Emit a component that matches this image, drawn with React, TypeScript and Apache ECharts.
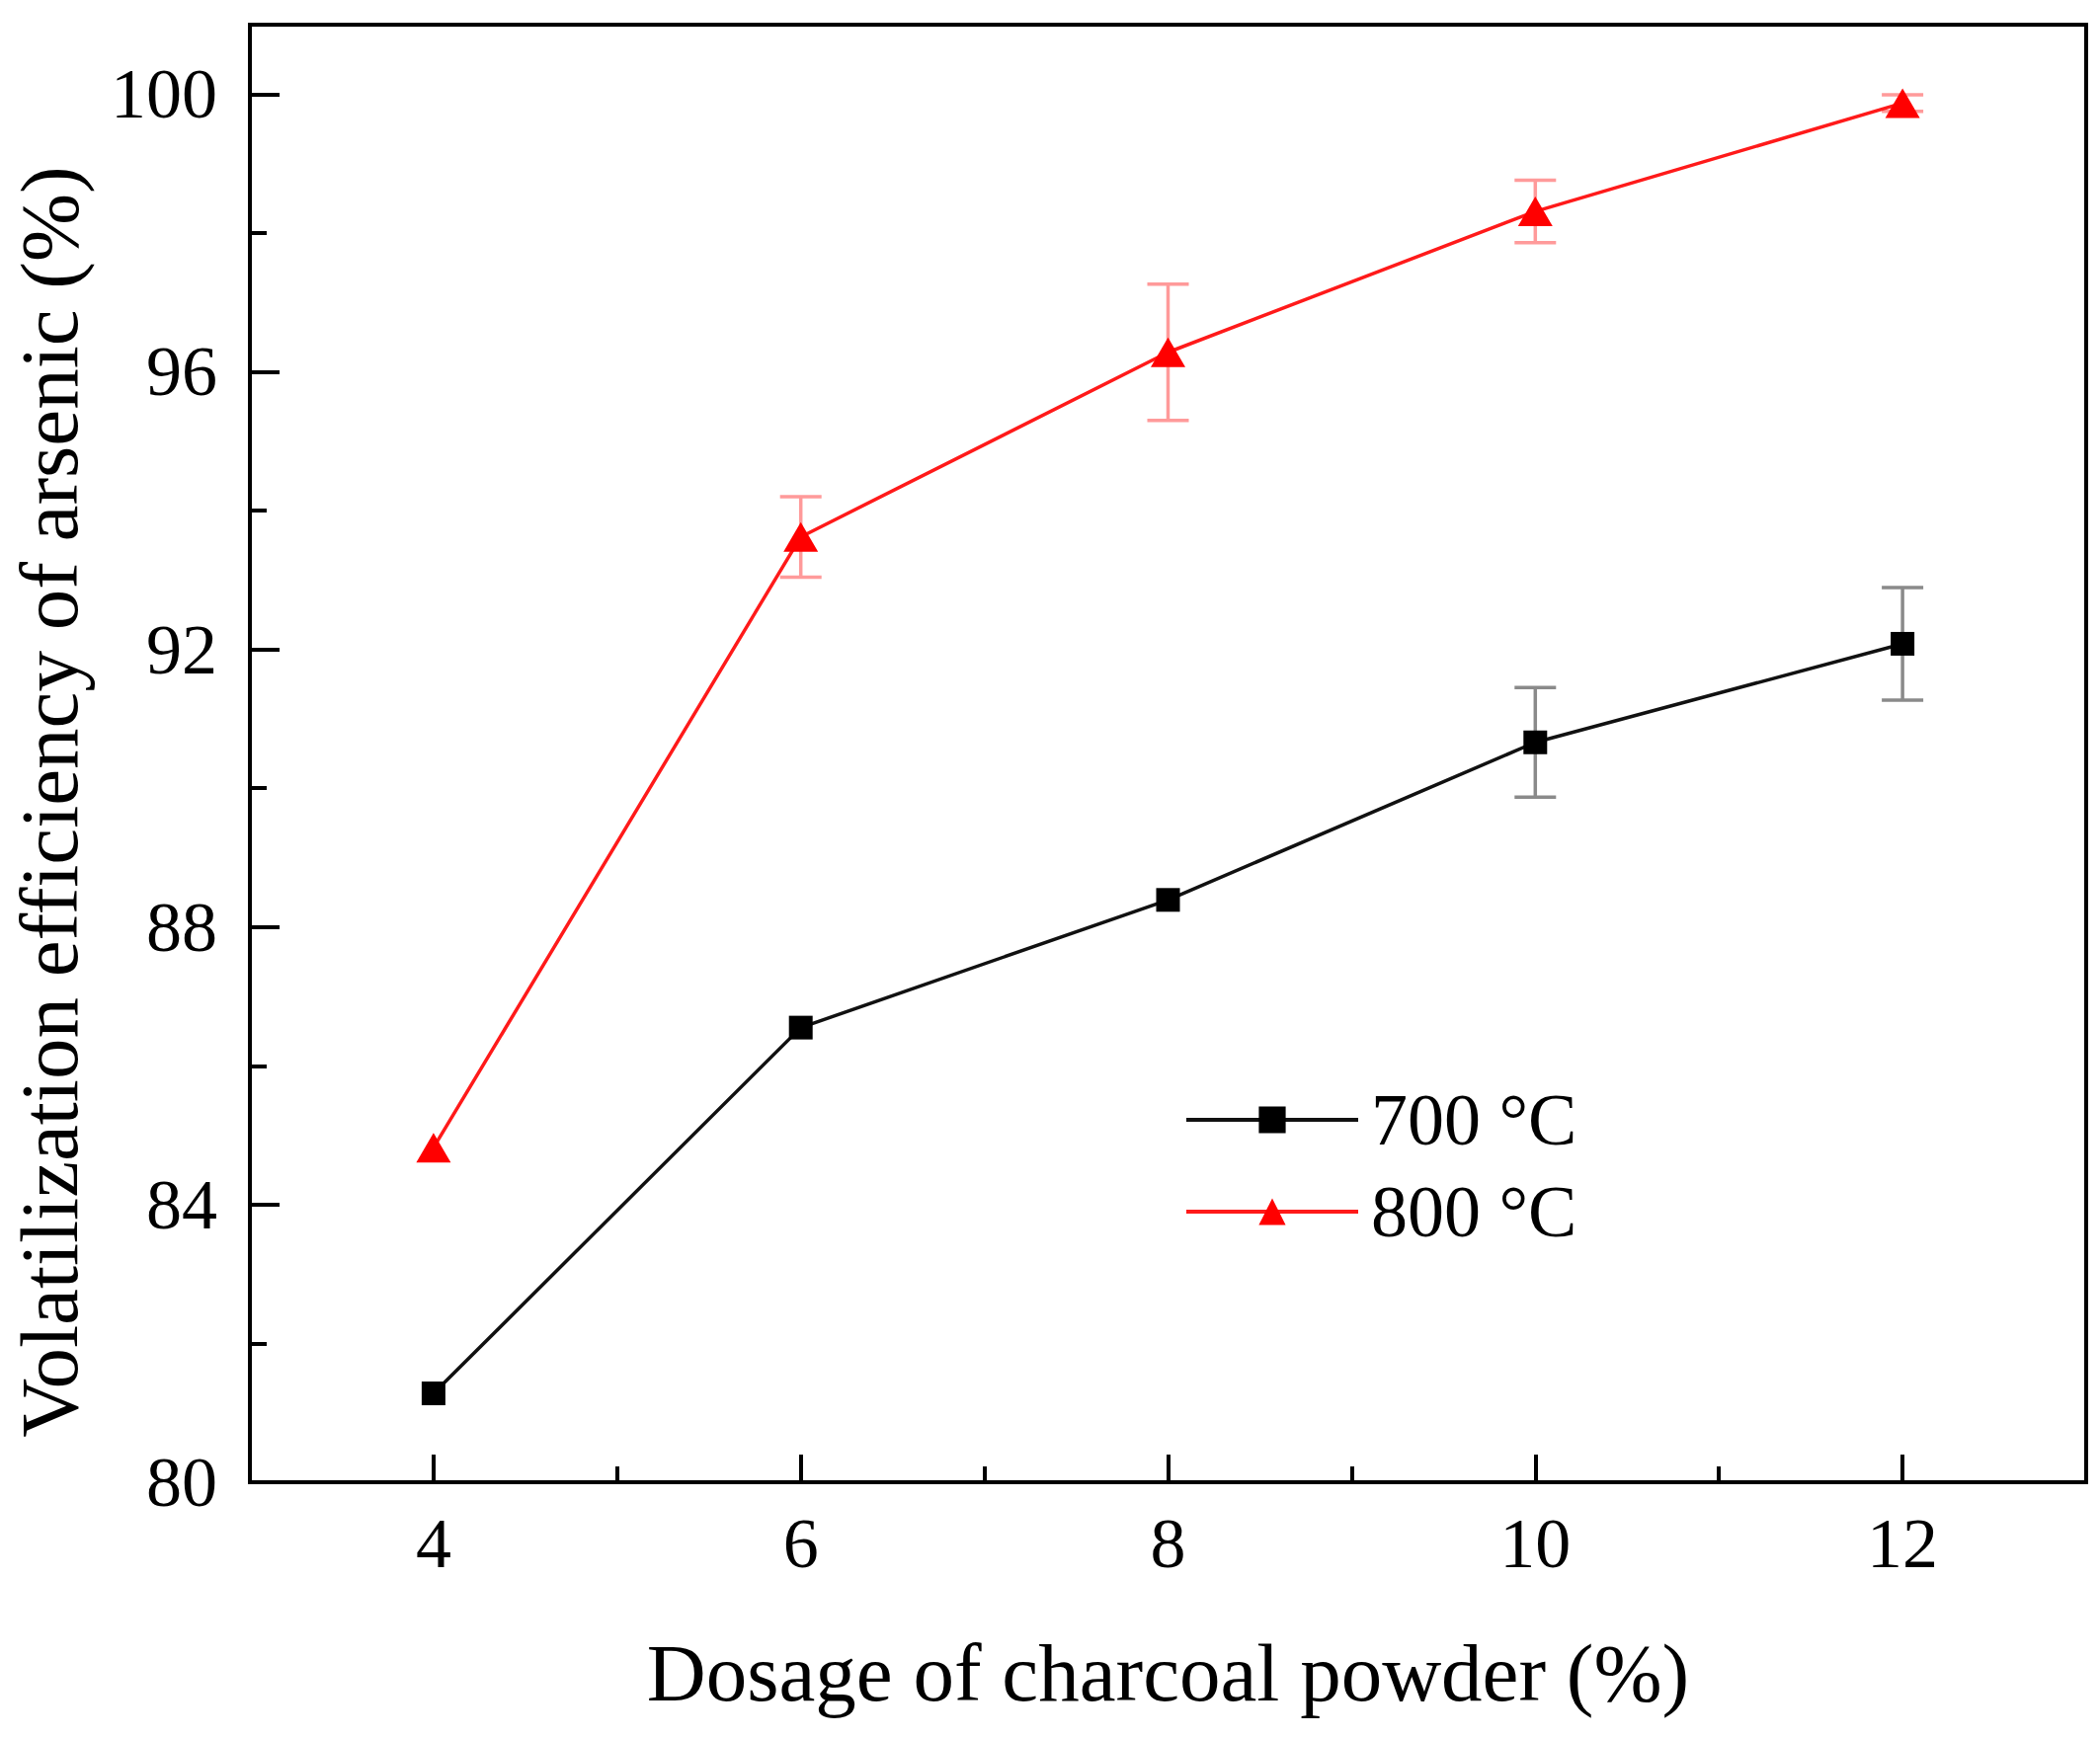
import React, { useEffect, useRef } from 'react';
import * as echarts from 'echarts';

// ---- data ----
const dosage = [4, 6, 8, 10, 12];
const eff700 = [81.28, 86.55, 88.39, 90.66, 92.08];
const err700 = [0, 0, 0, 0.79, 0.81];
const eff800 = [84.82, 93.62, 96.28, 98.31, 99.87];
const err800 = [0, 0.58, 0.98, 0.45, 0.12];

const xMajorTicks = [4, 6, 8, 10, 12];
const xMinorTicks = [5, 7, 9, 11];
const yMajorTicks = [80, 84, 88, 92, 96, 100];
const yMinorTicks = [82, 86, 90, 94, 98];

const seriesNames = ['700 °C', '800 °C'];
const xTitle = 'Dosage of charcoal powder (%)';
const yTitle = 'Volatilization efficiency of arsenic (%)';

const FONT = '"Liberation Serif", "Times New Roman", serif';

const makeErrorRender = (color: string) => (params: any, api: any) => {
  const x = api.value(0);
  const y = api.value(1);
  const e = api.value(2);
  if (!e) return { type: 'group', children: [] };
  const top = api.coord([x, y + e]);
  const bot = api.coord([x, y - e]);
  const hw = 21;
  const style = { stroke: color, lineWidth: 3.5 };
  return {
    type: 'group',
    children: [
      { type: 'line', shape: { x1: top[0], y1: top[1], x2: bot[0], y2: bot[1] }, style },
      { type: 'line', shape: { x1: top[0] - hw, y1: top[1], x2: top[0] + hw, y2: top[1] }, style },
      { type: 'line', shape: { x1: bot[0] - hw, y1: bot[1], x2: bot[0] + hw, y2: bot[1] }, style },
    ],
  };
};

export default function App() {
  const ref = useRef<HTMLDivElement>(null);
  useEffect(() => {
    document.body.style.margin = '0';
    document.body.style.overflow = 'hidden';
    if (!ref.current) return;
    const chart = echarts.init(ref.current, null, { renderer: 'svg' });

    const axisBlack = { color: '#000', width: 4 };

    const option: any = {
      animation: false,
      backgroundColor: '#fff',
      grid: {
        left: 253,
        right: 14,
        top: 25,
        bottom: 258,
        show: true,
        borderColor: '#000',
        borderWidth: 4,
        backgroundColor: 'transparent',
        containLabel: false,
        outerBoundsMode: 'none',
      },
      xAxis: [
        {
          type: 'value',
          min: 3,
          max: 13,
          position: 'bottom',
          offset: 0,
          axisLine: { show: true, onZero: false, lineStyle: axisBlack },
          axisTick: { show: true, inside: true, length: 28, lineStyle: { color: '#000', width: 4 }, customValues: xMajorTicks },
          axisLabel: { show: true, margin: 26, customValues: xMajorTicks, color: '#000', fontFamily: FONT, fontSize: 72 },
          splitLine: { show: false },
          name: xTitle,
          nameLocation: 'middle',
          nameGap: 151,
          nameTextStyle: { color: '#000', fontFamily: FONT, fontSize: 83 },
        },
        {
          type: 'value',
          min: 3,
          max: 13,
          position: 'bottom',
          offset: 0,
          axisLine: { show: false, onZero: false },
          axisTick: { show: true, inside: true, length: 16, lineStyle: { color: '#000', width: 4 }, customValues: xMinorTicks },
          axisLabel: { show: false },
          splitLine: { show: false },
        },
      ],
      yAxis: [
        {
          type: 'value',
          min: 80,
          max: 101,
          position: 'left',
          offset: 0,
          axisLine: { show: true, onZero: false, lineStyle: axisBlack },
          axisTick: { show: true, inside: true, length: 30, lineStyle: { color: '#000', width: 4 }, customValues: yMajorTicks },
          axisLabel: { show: true, margin: 33, customValues: yMajorTicks, color: '#000', fontFamily: FONT, fontSize: 72 },
          splitLine: { show: false },
        },
        {
          type: 'value',
          min: 80,
          max: 101,
          position: 'left',
          offset: 0,
          axisLine: { show: false, onZero: false },
          axisTick: { show: true, inside: true, length: 17, lineStyle: { color: '#000', width: 4 }, customValues: yMinorTicks },
          axisLabel: { show: false },
          splitLine: { show: false },
        },
      ],
      legend: {
        data: seriesNames,
        orient: 'vertical',
        left: 1194,
        top: 1089,
        itemWidth: 174,
        itemHeight: 34,
        itemGap: 13,
        lineStyle: { width: 4 },
        textStyle: { color: '#000', fontFamily: FONT, fontSize: 74, lineHeight: 80, padding: [0, 0, 0, 8] },
      },
      graphic: [
        {
          type: 'text',
          x: 50,
          y: 812,
          rotation: Math.PI / 2,
          style: {
            text: yTitle,
            font: `83px ${FONT}`,
            lineHeight: 80,
            fill: '#000',
            align: 'center',
            verticalAlign: 'middle',
            textAlign: 'center',
            textVerticalAlign: 'middle',
          },
        },
      ],
      series: [
        {
          name: 'err700',
          type: 'custom',
          xAxisIndex: 0,
          yAxisIndex: 0,
          z: 1,
          renderItem: makeErrorRender('#8a8a8a'),
          encode: { x: 0, y: 1 },
          data: dosage.map((x, i) => [x, eff700[i], err700[i]]),
        },
        {
          name: 'err800',
          type: 'custom',
          xAxisIndex: 0,
          yAxisIndex: 0,
          z: 1,
          renderItem: makeErrorRender('#ff9a9a'),
          encode: { x: 0, y: 1 },
          data: dosage.map((x, i) => [x, eff800[i], err800[i]]),
        },
        {
          name: seriesNames[0],
          type: 'line',
          xAxisIndex: 0,
          yAxisIndex: 0,
          z: 3,
          symbol: 'rect',
          symbolSize: 24,
          lineStyle: { color: '#111', width: 3.5 },
          itemStyle: { color: '#000' },
          data: dosage.map((x, i) => [x, eff700[i]]),
        },
        {
          name: seriesNames[1],
          type: 'line',
          xAxisIndex: 0,
          yAxisIndex: 0,
          z: 3,
          symbol: 'triangle',
          symbolSize: [35, 30],
          lineStyle: { color: '#ff1a1a', width: 3.5 },
          itemStyle: { color: '#ff0000' },
          data: dosage.map((x, i) => [x, eff800[i]]),
        },
      ],
    };

    chart.setOption(option);
    return () => {
      chart.dispose();
    };
  }, []);

  return <div ref={ref} style={{ width: 2126, height: 1759 }} />;
}
